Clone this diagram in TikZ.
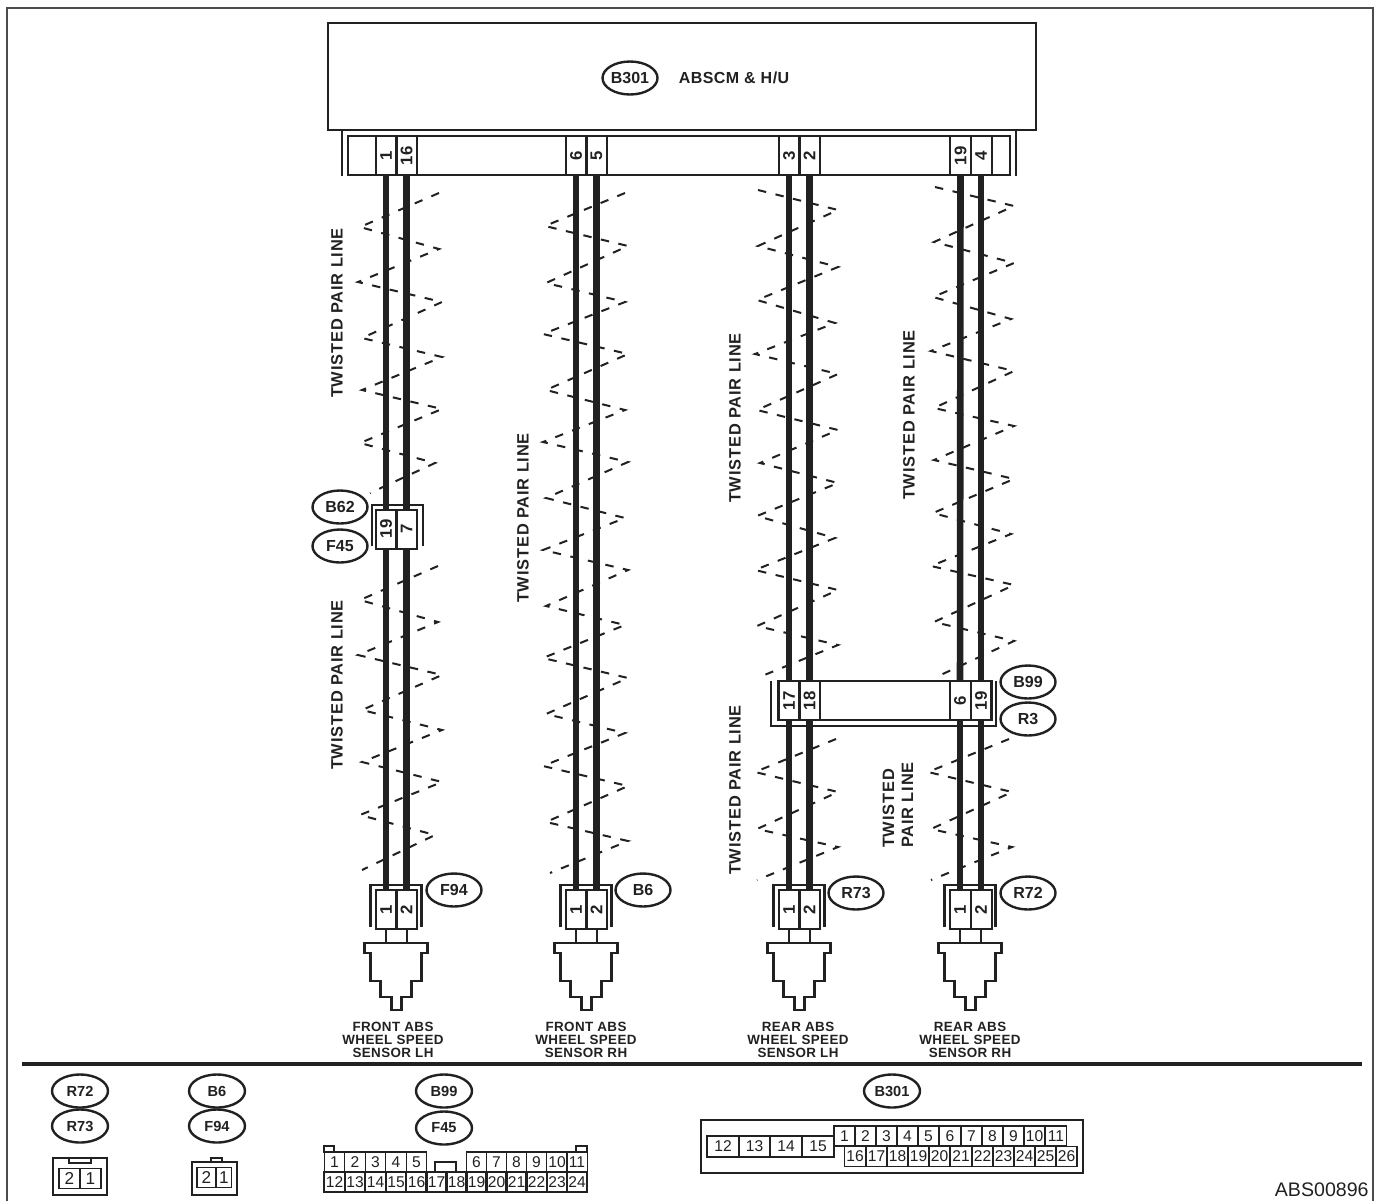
\documentclass[tikz,border=0pt]{standalone}
\usepackage{fontspec}
\setmainfont{Liberation Sans}
\newfontfamily\spaced[LetterSpace=3]{Liberation Sans}
\newfontfamily\spacedw[LetterSpace=5]{Liberation Sans}
\usetikzlibrary{shapes.geometric}
\definecolor{ink}{gray}{0.13}
\tikzset{
  tag/.style={draw, ellipse, line width=1.2pt, minimum width=27.5pt, minimum height=16.5pt, inner sep=0pt, font=\bfseries\fontsize{8}{9}\selectfont},
  cellv/.style={draw, rotate=90, line width=1pt, minimum width=19.5pt, minimum height=10.5pt, inner sep=0pt, font=\spaced\bfseries\fontsize{8.4}{9}\selectfont},
  cellu/.style={draw, line width=0.65pt, inner sep=0pt, minimum height=10pt, font=\fontsize{7.8}{8}\selectfont},
  wire/.style={line width=3.3pt},
  twist/.style={line width=1pt, dash pattern=on 4.2pt off 4.8pt},
  twistlabel/.style={rotate=90, align=left, font=\spacedw\bfseries\fontsize{8.2}{9.5}\selectfont},
  capt/.style={align=center, font=\spaced\bfseries\fontsize{6.7}{6.5}\selectfont}
}
\begin{document}
\begin{tikzpicture}[x=0.5pt, y=-0.5pt, color=ink]
\useasboundingbox (0,0) rectangle (1380,1201);

% Frame
\draw[line width=1.1pt, gray!60!black] (7,1201) |- (1373,8) -- (1373,1201);
\draw[line width=1.7pt] (22,1064) -- (1362,1064);

% Control module
\node[draw, line width=1.4pt, minimum width=354pt, minimum height=53.5pt, inner sep=0pt] (absm) at (682,76.5) {};
\node[tag] (tagB301) at (630,78) {B301};
\node[font=\spaced\bfseries\fontsize{8}{9}\selectfont] (abstitle) at (734,78) {ABSCM \& H/U};
\draw[line width=1.3pt] (342,131) -- (342,176);
\draw[line width=1.3pt] (1016,131) -- (1016,176);
\node[draw, line width=1pt, minimum width=331pt, minimum height=19.5pt, inner sep=0pt] (topbar) at (679,155.5) {};

% Top pins
\foreach \n/\x/\t in {a/386/1, b/406.5/16, c/576/6, d/596.5/5, e/789/3, f/809.5/2, g/960.5/19, h/981/4}
  \node[cellv] (top\n) at (\x,155.5) {\t};
\draw[line width=1pt] (991.5,136) -- (991.5,175);

% Twisted pair zigzags
\draw[twist] plot coordinates {(439,193) (360,227) (439,249) (358,282) (442,302) (362,338) (442,357) (362,390) (442,409) (360,443) (435,463) (370,493)};
\draw[twist] plot coordinates {(438,566) (360,600) (438,622) (358,655) (442,675) (362,710) (442,730) (362,762) (442,782) (360,815) (435,835) (362,870)};
\draw[twist] plot coordinates {(625,193) (545,226) (628,246) (546,283) (625,302) (543,334) (628,354) (546,390) (625,410) (543,442) (628,462) (546,498) (625,518) (543,550) (628,570) (546,606) (625,625) (543,658) (628,678) (546,714) (625,733) (543,766) (628,786) (546,822) (628,841) (550,873)};
\draw[twist] plot coordinates {(758,190) (838,210) (758,246) (838,267) (757,300) (835,323) (755,354) (838,374) (757,410) (838,430) (760,463) (838,483) (757,516) (835,538) (755,570) (838,590) (757,626) (838,645) (757,678)};
\draw[twist] plot coordinates {(935,187) (1014,206) (934,242) (1014,263) (933,297) (1011,319) (931,351) (1014,371) (934,408) (1014,426) (934,460) (1014,479) (933,513) (1011,534) (931,566) (1014,585) (934,622) (1014,641) (934,678)};
\draw[twist] plot coordinates {(836,739) (755,772) (838,792) (757,829) (838,847) (757,880)};
\draw[twist] plot coordinates {(1009,739) (928,772) (1012,792) (931,829) (1012,847) (931,880)};

% Twisted pair labels
\node[twistlabel] (tpa) at (337,313) {TWISTED PAIR LINE};
\node[twistlabel] (tpb) at (337,685) {TWISTED PAIR LINE};
\node[twistlabel] (tpc) at (523,518) {TWISTED PAIR LINE};
\node[twistlabel] (tpd) at (735,418) {TWISTED PAIR LINE};
\node[twistlabel] (tpe) at (735,790) {TWISTED PAIR LINE};
\node[twistlabel] (tpf) at (909,415) {TWISTED PAIR LINE};
\node[twistlabel] (tpg) at (898,805) {TWISTED\\PAIR LINE};

% Joint B62 / F45
\draw[line width=1.3pt] (372,546) |- (423,505) -- (423,546);
\node[cellv] (midl) at (386,529) {19};
\node[cellv] (midr) at (406.5,529) {7};
\node[tag] (tagB62) at (340,507) {B62};
\node[tag] (tagF45) at (340,546) {F45};

% Joint B99 / R3
\draw[line width=1.3pt] (771,681) |- (996,726) -- (996,681);
\node[draw, line width=1pt, minimum width=106.5pt, minimum height=19.5pt, inner sep=0pt] (jointbar) at (884,700.5) {};
\foreach \n/\x/\t in {a/789/17, b/809.5/18, c/960/6, d/981/19}
  \node[cellv] (join\n) at (\x,700.5) {\t};
\node[tag] (tagB99) at (1028,682) {B99};
\node[tag] (tagR3) at (1028,719) {R3};

% Sensors
\foreach \n/\a/\b/\t/\tx/\ty in {p/386/406.5/F94/454/890, q/576/596.5/B6/643/890, r/789/809.5/R73/856/893, s/960/981/R72/1028/893} {
  \pgfmathsetmacro\cx{(\a+\b)/2}
  \draw[line width=1.3pt] (\cx-26,927) |- (\cx+25,885) -- (\cx+25,927);
  \node[cellv] (\n l) at (\a,909.5) {1};
  \node[cellv] (\n r) at (\b,909.5) {2};
  \node[tag] (tag\t) at (\tx,\ty) {\t};
  \coordinate (\n sl) at (\a,943);
  \coordinate (\n sr) at (\b,943);
  \draw[line width=1pt] (\n l) -- (\n sl);
  \draw[line width=1pt] (\n r) -- (\n sr);
  \draw[line width=1.3pt] (\cx-32,943) -- (\cx+31,943) -- (\cx+31,953) -- (\cx+25,953) -- (\cx+25,981) -- (\cx+15,981) -- (\cx+15,997) -- (\cx+5,997) -- (\cx+5,1010) -- (\cx-5,1010) -- (\cx-5,997) -- (\cx-16,997) -- (\cx-16,981) -- (\cx-26,981) -- (\cx-26,953) -- (\cx-32,953) -- cycle;
}

% Wires
\draw[wire] (topa) -- (midl);
\draw[wire] (topb) -- (midr);
\draw[wire] (midl) -- (pl);
\draw[wire] (midr) -- (pr);
\draw[wire] (topc) -- (ql);
\draw[wire] (topd) -- (qr);
\draw[wire] (tope) -- (joina);
\draw[wire] (topf) -- (joinb);
\draw[wire] (joina) -- (rl);
\draw[wire] (joinb) -- (rr);
\draw[wire] (topg) -- (joinc);
\draw[wire] (toph) -- (joind);
\draw[wire] (joinc) -- (sl);
\draw[wire] (joind) -- (sr);

% Sensor captions
\node[capt] (captp) at (393,1040) {FRONT ABS\\WHEEL SPEED\\SENSOR LH};
\node[capt] (captq) at (586,1040) {FRONT ABS\\WHEEL SPEED\\SENSOR RH};
\node[capt] (captr) at (798,1040) {REAR ABS\\WHEEL SPEED\\SENSOR LH};
\node[capt] (capts) at (970,1040) {REAR ABS\\WHEEL SPEED\\SENSOR RH};

% Connector legend tags
\foreach \n/\t/\x/\y in {a/R72/80/1091, b/R73/80/1126, c/B6/217/1091, d/F94/217/1126, e/B99/444/1091, f/F45/444/1128, g/B301/892/1091}
  \node[tag, minimum width=28pt, font=\bfseries\fontsize{7.3}{8}\selectfont] (leg\n) at (\x,\y) {\t};

% Legend: two pin connectors
\draw[line width=0.7pt] (53,1158) rectangle (107,1195);
\draw[line width=0.7pt] (69,1158) rectangle (91,1163);
\node[cellu, minimum width=10.5pt, font=\fontsize{8.6}{9}\selectfont] (lega2) at (69.5,1178.5) {2};
\node[cellu, minimum width=10.5pt, font=\fontsize{8.6}{9}\selectfont] (lega1) at (90.5,1178.5) {1};
\draw[line width=0.7pt] (192,1162) rectangle (237,1195);
\draw[line width=0.7pt] (211,1158) rectangle (222,1162);
\node[cellu, minimum width=9.5pt, font=\fontsize{8.6}{9}\selectfont] (legb2) at (206.5,1177.5) {2};
\node[cellu, minimum width=7.5pt, font=\fontsize{8.6}{9}\selectfont] (legb1) at (224,1177.5) {1};

% Legend: 24 pin connector
\draw[line width=0.7pt] (324,1146) rectangle (334,1152);
\draw[line width=0.7pt] (576,1146) rectangle (587,1152);
\draw[line width=0.7pt] (435,1172) |- (456,1162) -- (456,1172);
\foreach \t/\x in {1/334.5, 2/355, 3/375.5, 4/396, 5/416.5, 6/476.5, 7/496.5, 8/516.5, 9/536.5, 10/557, 11/577}
  \node[cellu, minimum width=10.2pt] (midu\t) at (\x,1162) {\t};
\foreach \t/\x in {12/334.5, 13/355, 14/375.5, 15/396, 16/416.5, 17/436.5, 18/456.5, 19/476.5, 20/496.5, 21/516.5, 22/536.5, 23/557, 24/577}
  \node[cellu, line width=1pt, minimum width=10.2pt] (midd\t) at (\x,1182) {\t};

% Legend: 26 pin connector
\draw[line width=0.7pt] (701,1120) rectangle (1083,1173);
\foreach \t/\x in {12/723, 13/754.5, 14/786, 15/818}
  \node[cellu, minimum width=16pt, minimum height=10.5pt] (bigl\t) at (\x,1146.5) {\t};
\foreach \t/\x in {1/844.5, 2/865.5, 3/886.5, 4/907.5, 5/928.5, 6/950, 7/971.5, 8/992.5, 9/1013.5, 10/1034.5, 11/1056}
  \node[cellu, minimum width=10.5pt] (bigu\t) at (\x,1136) {\t};
\foreach \t/\x in {16/855, 17/876.5, 18/897.5, 19/918.5, 20/939.5, 21/961, 22/982.5, 23/1003.5, 24/1024.5, 25/1045.5, 26/1066.5}
  \node[cellu, minimum width=10.5pt] (bigd\t) at (\x,1156.5) {\t};

% Drawing code
\node[anchor=base east, inner sep=0pt, font=\fontsize{9.8}{11}\selectfont] (code) at (1369,1196) {ABS00896};
\end{tikzpicture}
\end{document}
